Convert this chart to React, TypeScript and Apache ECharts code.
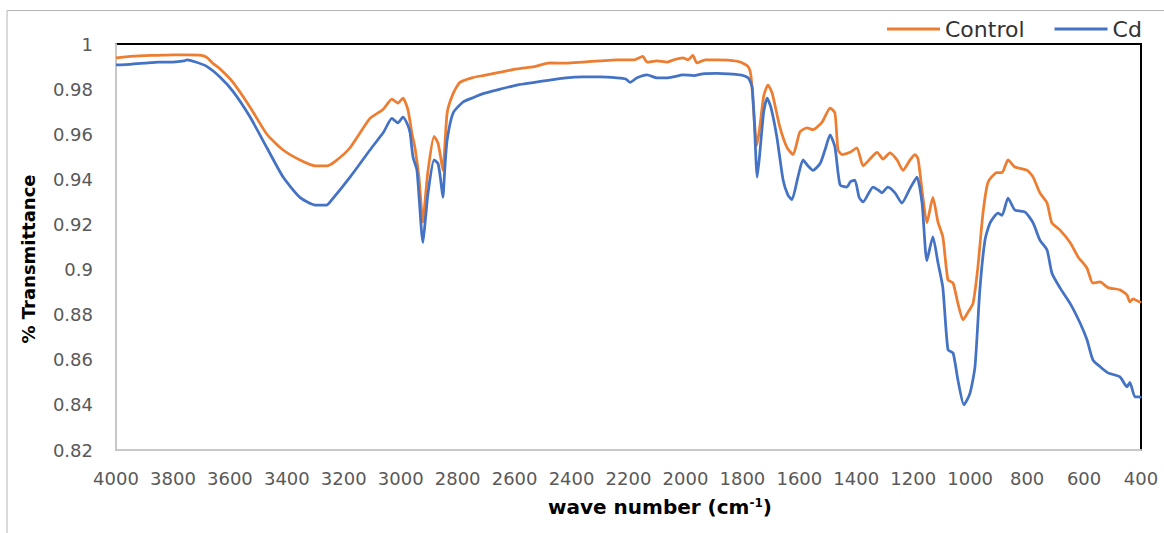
import React, { useEffect, useRef } from "react";
import * as echarts from "echarts";

const xTicks = { min: 400, max: 4000, step: 200 };
const yTicks = { min: 0.82, max: 1, step: 0.02 };

const controlWn = [
  4000, 3950, 3900, 3850, 3800, 3750, 3700, 3680, 3660, 3635, 3589, 3529, 3470, 3413, 3354, 3300, 3260, 3230, 3178,
  3108, 3062, 3031, 3010, 2992, 2975, 2960, 2950, 2936, 2922, 2912, 2904, 2883, 2869, 2860, 2852, 2837, 2816, 2792,
  2750, 2711, 2650, 2592, 2530, 2476, 2420, 2360, 2300, 2240, 2180, 2150, 2135, 2100, 2065, 2040, 2009, 1990, 1974,
  1960, 1930, 1889, 1850, 1808, 1780, 1770, 1760, 1750, 1740, 1725, 1710, 1695, 1668, 1643, 1622, 1598, 1573, 1552,
  1520, 1492, 1475, 1464, 1450, 1422, 1398, 1376, 1352, 1327, 1306, 1282, 1257, 1236, 1211, 1194, 1183, 1166, 1152,
  1131, 1113, 1096, 1078, 1060, 1043, 1025, 1008, 990, 973, 955, 937, 906, 888, 867, 843, 800, 779, 755, 730, 713,
  685, 649, 621, 590, 569, 544, 516, 474, 449, 439, 428, 404, 400,
];
const controlT = [
  0.9938, 0.9945, 0.9948, 0.995, 0.9952, 0.9952, 0.995, 0.994, 0.9915, 0.989, 0.983, 0.972, 0.96, 0.953, 0.9486, 0.946,
  0.946, 0.948, 0.954, 0.967, 0.971, 0.9756, 0.9738, 0.976, 0.971, 0.96, 0.954, 0.941, 0.921, 0.934, 0.944, 0.959,
  0.956, 0.95, 0.944, 0.9694, 0.978, 0.983, 0.985, 0.986, 0.9875, 0.989, 0.99, 0.9916, 0.9915, 0.992, 0.9925, 0.993,
  0.993, 0.9945, 0.992, 0.9925, 0.992, 0.993, 0.9938, 0.993, 0.995, 0.9916, 0.993, 0.993, 0.9928, 0.992, 0.99, 0.986,
  0.97, 0.955, 0.962, 0.977, 0.9818, 0.978, 0.963, 0.954, 0.951, 0.961, 0.9628, 0.962, 0.9654, 0.9716, 0.9694, 0.953,
  0.951, 0.952, 0.954, 0.946, 0.949, 0.952, 0.949, 0.9517, 0.9486, 0.944, 0.9486, 0.951, 0.949, 0.932, 0.9207, 0.932,
  0.921, 0.9145, 0.8954, 0.894, 0.885, 0.8777, 0.881, 0.885, 0.901, 0.925, 0.9388, 0.943, 0.943, 0.9486, 0.9455, 0.944,
  0.941, 0.934, 0.9295, 0.9207, 0.9176, 0.912, 0.9056, 0.9007, 0.894, 0.8945, 0.892, 0.891, 0.8887, 0.8856, 0.887,
  0.8856, 0.886,
];

const cdWn = [
  4000, 3950, 3900, 3850, 3800, 3760, 3751, 3720, 3680, 3635, 3589, 3529, 3470, 3413, 3354, 3300, 3260, 3248, 3178,
  3108, 3060, 3031, 3010, 2992, 2975, 2967, 2957, 2943, 2922, 2912, 2904, 2883, 2869, 2860, 2852, 2845, 2837, 2816,
  2781, 2750, 2711, 2650, 2592, 2530, 2476, 2420, 2360, 2300, 2240, 2210, 2195, 2170, 2135, 2100, 2065, 2040, 2009,
  1970, 1940, 1889, 1850, 1808, 1780, 1766, 1758, 1748, 1740, 1725, 1713, 1700, 1679, 1657, 1640, 1626, 1605, 1587,
  1570, 1552, 1527, 1510, 1492, 1475, 1457, 1433, 1420, 1405, 1390, 1376, 1341, 1320, 1310, 1289, 1264, 1240, 1211,
  1187, 1169, 1152, 1131, 1113, 1096, 1078, 1060, 1043, 1022, 1001, 983, 966, 948, 930, 902, 888, 867, 843, 807, 779,
  755, 730, 713, 685, 649, 614, 590, 569, 544, 516, 474, 449, 439, 421, 404, 400,
];
const cdT = [
  0.9907, 0.991, 0.9915, 0.992, 0.992, 0.9925, 0.993, 0.992, 0.99, 0.9854, 0.979, 0.9676, 0.954, 0.941, 0.932, 0.9286,
  0.9286, 0.93, 0.941, 0.953, 0.961, 0.967, 0.965, 0.9676, 0.964, 0.9605, 0.95, 0.944, 0.912, 0.924, 0.934, 0.9486,
  0.947, 0.94, 0.932, 0.945, 0.9574, 0.9694, 0.9743, 0.976, 0.978, 0.98, 0.9818, 0.983, 0.984, 0.985, 0.9854, 0.9854,
  0.985, 0.9845, 0.983, 0.985, 0.9863, 0.985, 0.985, 0.9855, 0.9863, 0.986, 0.9868, 0.987, 0.9868, 0.9863, 0.985,
  0.981, 0.965, 0.941, 0.95, 0.97, 0.976, 0.972, 0.9588, 0.9397, 0.933, 0.931, 0.941, 0.9486, 0.946, 0.944, 0.947,
  0.953, 0.9597, 0.9543, 0.9375, 0.9366, 0.939, 0.9397, 0.932, 0.93, 0.9366, 0.935, 0.934, 0.9366, 0.934, 0.9295,
  0.936, 0.941, 0.9295, 0.904, 0.9145, 0.903, 0.892, 0.8644, 0.863, 0.851, 0.84, 0.845, 0.857, 0.891, 0.913, 0.9207,
  0.925, 0.924, 0.9317, 0.9264, 0.9255, 0.9207, 0.913, 0.9087, 0.8985, 0.892, 0.885, 0.8763, 0.869, 0.86, 0.857,
  0.8542, 0.8524, 0.848, 0.85, 0.8435, 0.8435, 0.843,
];

const seriesNames = ["Control", "Cd"];
const seriesColors = ["#ED7D31", "#4472C4"];
const xTitle = "wave number (cm";
const xTitleSup = "-1";
const yTitle = "% Transmittance";

const FONT = "'DejaVu Sans', sans-serif";

export default function App() {
  const ref = useRef<HTMLDivElement>(null);
  useEffect(() => {
    if (!ref.current) return;
    const chart = echarts.init(ref.current, undefined, { renderer: "svg" });
    const pairs = (xs: number[], ys: number[]) => xs.map((x, i) => [x, ys[i]]);
    chart.setOption({
      animation: false,
      backgroundColor: "#ffffff",
      textStyle: { fontFamily: FONT },
      grid: {
        left: 116,
        right: 23,
        top: 44,
        bottom: 83,
        show: true,
        borderColor: "#000000",
        borderWidth: 2,
      },
      legend: {
        left: 882,
        top: 13,
        itemWidth: 53,
        itemHeight: 3,
        itemGap: 30,
        icon: "rect",
        textStyle: { fontFamily: FONT, fontSize: 22, color: "#333333" },
        data: seriesNames,
      },
      xAxis: {
        type: "value",
        inverse: true,
        min: xTicks.min,
        max: xTicks.max,
        interval: xTicks.step,
        axisLine: { show: true, lineStyle: { color: "#c8c8c8", width: 2 } },
        axisTick: { show: false },
        splitLine: { show: false },
        axisLabel: {
          margin: 19,
          fontFamily: FONT,
          fontSize: 18,
          color: "#595959",
          hideOverlap: false,
          formatter: (v: number) => String(Math.round(v)),
        },
      },
      yAxis: {
        type: "value",
        min: yTicks.min,
        max: yTicks.max,
        interval: yTicks.step,
        axisLine: { show: true, lineStyle: { color: "#c8c8c8", width: 2 } },
        axisTick: { show: false },
        splitLine: { show: false },
        axisLabel: {
          margin: 23,
          fontFamily: FONT,
          fontSize: 18,
          color: "#595959",
          formatter: (v: number) => String(+v.toFixed(2)),
        },
      },
      graphic: [
        {
          type: "rect",
          shape: { x: 7, y: 10.5, width: 1170, height: 540 },
          style: { fill: "none", stroke: "#b4b4b4", lineWidth: 1 },
          silent: true,
          z: -10,
        },
        {
          type: "text",
          x: 28,
          y: 259,
          rotation: Math.PI / 2,
          style: {
            text: yTitle,
            fontFamily: FONT,
            fontSize: 18,
            fontWeight: "bold",
            fill: "#000000",
            align: "center",
            verticalAlign: "middle",
          },
        },
        {
          type: "text",
          x: 660,
          y: 507,
          style: {
            text: `${xTitle}{sup|${xTitleSup}}{b|)}`,
            fontFamily: FONT,
            fontSize: 20,
            fontWeight: "bold",
            fill: "#000000",
            align: "center",
            verticalAlign: "middle",
            rich: {
              sup: { fontFamily: FONT, fontSize: 12, fontWeight: "bold", fill: "#000", padding: [0, 0, 9, 0] },
              b: { fontFamily: FONT, fontSize: 20, fontWeight: "bold", fill: "#000" },
            },
          },
        },
      ],
      series: [
        {
          name: seriesNames[0],
          type: "line",
          data: pairs(controlWn, controlT),
          symbol: "none",
          smooth: 0.2,
          lineStyle: { color: seriesColors[0], width: 2.75 },
          itemStyle: { color: seriesColors[0] },
          z: 2,
        },
        {
          name: seriesNames[1],
          type: "line",
          data: pairs(cdWn, cdT),
          symbol: "none",
          smooth: 0.2,
          lineStyle: { color: seriesColors[1], width: 2.75 },
          itemStyle: { color: seriesColors[1] },
          z: 3,
        },
      ],
    });
    return () => chart.dispose();
  }, []);
  return (
    <div
      ref={ref}
      style={{ position: "absolute", left: 0, top: 0, width: 1164, height: 533, background: "#fff" }}
    />
  );
}
